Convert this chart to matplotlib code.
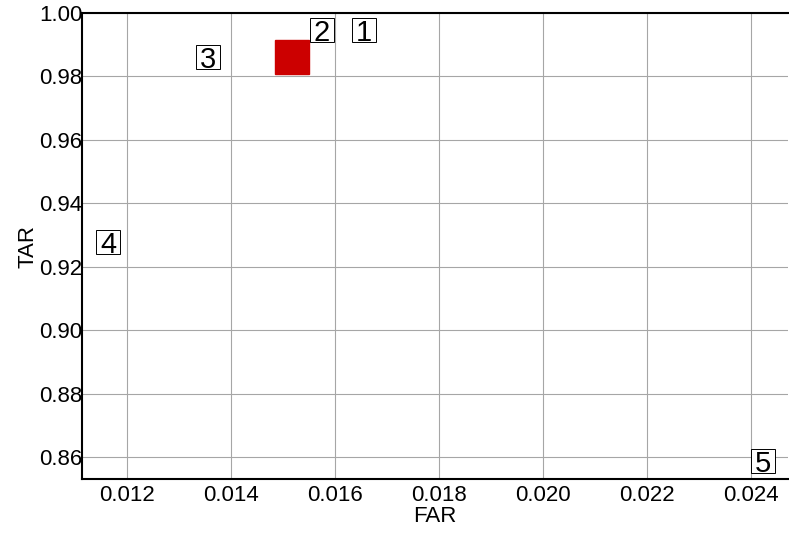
#!/usr/bin/env python3
# far_tar.py

import matplotlib.pyplot as plt
import numpy as np

plt.rcParams['font.family'] = ['Liberation Sans', 'DejaVu Sans']

# labelled operating points (FAR, TAR)
labels = ["1", "2", "3", "4", "5"]
far = [0.01655, 0.01574, 0.01355, 0.01163, 0.02423]
tar = [0.9947, 0.9947, 0.9859, 0.9279, 0.8589]

# highlighted point
sel_far = [0.01517]
sel_tar = [0.9860]

xticks = [0.012, 0.014, 0.016, 0.018, 0.020, 0.022, 0.024]
yticks = [0.86, 0.88, 0.90, 0.92, 0.94, 0.96, 0.98, 1.00]


def plot(ax):
    ax.set_xlim(0.011135, 0.024706)
    ax.set_ylim(0.8531, 1.0)
    ax.set_xticks(xticks)
    ax.set_yticks(yticks)
    ax.set_xticklabels(["%.3f" % v for v in xticks])
    ax.set_yticklabels(["%.2f" % v for v in yticks])
    ax.tick_params(length=0, labelsize=16)
    ax.tick_params(axis='y', pad=0)
    ax.tick_params(axis='x', pad=4)

    ax.grid(True, color='#a6a6a6', linewidth=0.8)
    ax.set_axisbelow(True)

    for s in ['left', 'bottom', 'top']:
        ax.spines[s].set_linewidth(1.5)
    ax.spines['right'].set_visible(False)

    ax.set_xlabel("FAR", fontsize=16, labelpad=0)
    ax.set_ylabel("TAR", fontsize=16, labelpad=0)

    ax.plot(sel_far, sel_tar, linestyle='none', marker='s', markersize=24.5,
            markerfacecolor='#cc0000', markeredgecolor='#cc0000')

    # boxed number labels
    ax.plot(far, tar, linestyle='none', marker='s', markersize=17.5,
            markerfacecolor='white', markeredgecolor='black',
            markeredgewidth=0.7)
    for lab, x, y in zip(labels, far, tar):
        ax.text(x, y, lab, fontsize=21, ha='center', va='center_baseline')


def main():
    fig = plt.figure(figsize=(7.89, 5.38), dpi=100)
    ax = fig.add_axes([0.1043, 0.1091, 0.8944, 0.8673])
    plot(ax)
    fig.savefig("out.png", dpi=100)


if __name__ == "__main__":
    main()
